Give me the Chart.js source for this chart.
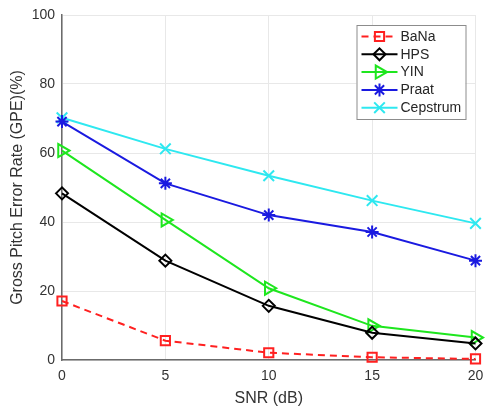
<!DOCTYPE html>
<html>
<head>
<meta charset="utf-8">
<script src="https://cdn.jsdelivr.net/npm/chart.js@4/dist/chart.umd.min.js"></script>
<style>
    html, body { margin: 0; padding: 0; background: #fff; }
    #wrap { width: 485px; height: 410px; }
</style>
</head>
<body>
<div id="wrap"><canvas id="gpeChart" width="485" height="410"></canvas></div>
<script>
const snr = [0, 5, 10, 15, 20];
const bana = [17.1, 5.6, 2.1, 0.8, 0.3];
const hps = [48.3, 28.8, 15.7, 7.9, 4.8];
const yin = [60.7, 40.6, 20.8, 9.9, 6.5];
const praat = [69.1, 51.2, 42.0, 37.1, 28.8];
const cepstrum = [70.2, 61.2, 53.4, 46.2, 39.6];
const yTicks = [0, 20, 40, 60, 80, 100];

const FONT = '"Liberation Sans", Arial, sans-serif';

function toPoints(values) {
    return values.map((v, i) => ({ x: snr[i], y: v }));
}

function series(label, values, color, style, radius, extra) {
    return Object.assign({
        label: label,
        data: toPoints(values),
        borderColor: color,
        backgroundColor: color,
        borderWidth: 2,
        pointStyle: style,
        pointRadius: radius,
        pointHoverRadius: radius,
        pointBorderColor: color,
        pointBackgroundColor: 'rgba(255,255,255,0)',
        pointBorderWidth: 2,
        tension: 0,
        fill: false,
        clip: false
    }, extra || {});
}

// legend in the top right corner, line sample with the marker on it
const boxLegend = {
    id: 'boxLegend',
    afterDraw(chart) {
        const ctx = chart.ctx;
        const area = chart.chartArea;
        const w = 109, rowH = 17.8, h = 94;
        const x0 = area.right - 119, y0 = area.top + 10;
        ctx.save();
        ctx.fillStyle = '#fff';
        ctx.fillRect(x0, y0, w, h);
        ctx.strokeStyle = '#8c8c8c';
        ctx.lineWidth = 1;
        ctx.strokeRect(x0 + 0.5, y0 + 0.5, w, h);
        chart.data.datasets.forEach((ds, i) => {
            const cy = y0 + 11.5 + i * rowH;
            ctx.strokeStyle = ds.borderColor;
            ctx.lineWidth = 2;
            ctx.setLineDash(ds.borderDash || []);
            ctx.beginPath();
            ctx.moveTo(x0 + 5, cy);
            ctx.lineTo(x0 + 41, cy);
            ctx.stroke();
            ctx.setLineDash([]);
            ctx.strokeStyle = ds.pointBorderColor;
            ctx.fillStyle = ds.pointBackgroundColor;
            Chart.helpers.drawPoint(ctx, {
                pointStyle: ds.pointStyle,
                rotation: ds.pointRotation || 0,
                radius: ds.pointRadius,
                borderWidth: 2
            }, x0 + 23, cy);
            ctx.fillStyle = '#262626';
            ctx.font = '14px ' + FONT;
            ctx.textBaseline = 'middle';
            ctx.textAlign = 'left';
            ctx.fillText(ds.label, x0 + 44, cy + 0.5);
        });
        ctx.restore();
    }
};

new Chart(document.getElementById('gpeChart').getContext('2d'), {
    type: 'line',
    data: {
        datasets: [
            series('BaNa', bana, '#ff2020', 'rect', 6.5, { borderDash: [7, 5] }),
            series('HPS', hps, '#000000', 'rectRot', 6),
            series('YIN', yin, '#1ee61e', 'triangle', 7.5, { pointRotation: 90 }),
            series('Praat', praat, '#1a1ae0', 'star', 6.5),
            series('Cepstrum', cepstrum, '#2ee8f0', 'crossRot', 7.5)
        ]
    },
    options: {
        responsive: false,
        animation: false,
        layout: { padding: { top: 15, right: 8, left: 0, bottom: 0 } },
        plugins: {
            legend: { display: false },
            tooltip: { enabled: false }
        },
        scales: {
            x: {
                type: 'linear',
                min: 0,
                max: 20,
                afterBuildTicks(scale) {
                    scale.ticks = snr.map(v => ({ value: v }));
                },
                afterFit(scale) {
                    scale.height = 50;
                    scale.paddingRight = 0;
                    scale.paddingLeft = 0;
                },
                grid: { color: '#e8e8e8', lineWidth: 1, drawTicks: false },
                border: { color: '#6b6b6b', width: 1.5 },
                ticks: { color: '#333', padding: 8, font: { family: FONT, size: 14 } },
                title: {
                    display: true,
                    text: 'SNR (dB)',
                    color: '#333',
                    font: { family: FONT, size: 16 },
                    padding: { top: 0, bottom: 2 }
                }
            },
            y: {
                min: 0,
                max: 100,
                afterBuildTicks(scale) {
                    scale.ticks = yTicks.map(v => ({ value: v }));
                },
                afterFit(scale) {
                    scale.width = 62;
                    scale.paddingTop = 0;
                    scale.paddingBottom = 0;
                },
                grid: { color: '#e8e8e8', lineWidth: 1, drawTicks: false },
                border: { color: '#6b6b6b', width: 1.5 },
                ticks: { color: '#333', padding: 7, font: { family: FONT, size: 14 } },
                title: {
                    display: true,
                    text: 'Gross Pitch Error Rate (GPE)(%)',
                    color: '#333',
                    font: { family: FONT, size: 16 },
                    padding: { top: 8, bottom: 0 }
                }
            }
        }
    },
    plugins: [boxLegend]
});
</script>
</body>
</html>
